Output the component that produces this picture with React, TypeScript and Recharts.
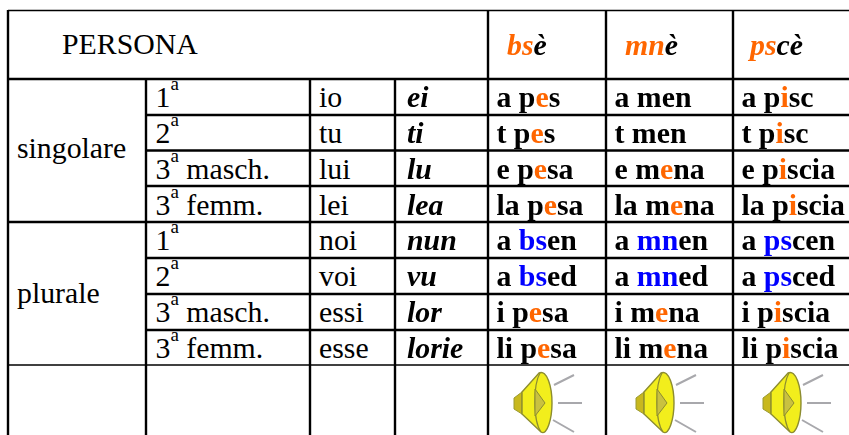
import { ReferenceLine, Scatter, ScatterChart, XAxis, YAxis } from "recharts";

const WIDTH = 849;
const HEIGHT = 435;
const SERIF = "'Liberation Serif', 'Times New Roman', serif";
const ORANGE = "#ff6600";
const BLUE = "#0000ff";

// table content. {x} marks the orange vowel, [x] the blue root
const groups = ["singolare", "plurale"];
const ordinals = ["1", "2", "3", "3", "1", "2", "3", "3"];
const personNotes = ["", "", "masch.", "femm.", "", "", "masch.", "femm."];
const pronouns = ["io", "tu", "lui", "lei", "noi", "voi", "essi", "esse"];
const dialectPronouns = ["ei", "ti", "lu", "lea", "nun", "vu", "lor", "lorie"];
const verbHeads = ["{bs}è", "{mn}è", "{ps}cè"];
const bseForms = ["a p{e}s", "t p{e}s", "e p{e}sa", "la p{e}sa", "a [bs]en", "a [bs]ed", "i p{e}sa", "li p{e}sa"];
const mneForms = ["a men", "t men", "e m{e}na", "la m{e}na", "a [mn]en", "a [mn]ed", "i m{e}na", "li m{e}na"];
const psceForms = ["a p{i}sc", "t p{i}sc", "e p{i}scia", "la p{i}scia", "a [ps]cen", "a [ps]ced", "i p{i}scia", "li p{i}scia"];

// layout
const colX = { left: 8, person: 146, pronoun: 310, dialect: 395, bse: 488, mne: 606, psce: 733 };
const rowLines = [79, 115, 150.5, 186, 222, 258, 294, 330, 365];
const baselines = [107, 143, 178.5, 214.5, 250, 286, 322, 358];
const groupBaselines = [158, 303];
const formX = [496.5, 614.5, 741.5];
const headX = [507, 625, 750];
const speakerX = [514, 636, 763];
const speakerY = 403;
const FONT = 29.8;
const LINE = 2.4;

type Run = { text: string; color?: string };

function parseRuns(src: string): Run[] {
  const runs: Run[] = [];
  const re = /\{([^}]*)\}|\[([^\]]*)\]|([^{[]+)/g;
  let m;
  while ((m = re.exec(src))) {
    if (m[1]) runs.push({ text: m[1], color: ORANGE });
    else if (m[2]) runs.push({ text: m[2], color: BLUE });
    else runs.push({ text: m[3] });
  }
  return runs;
}

function TextMark(props: any) {
  const { cx, cy, payload } = props;
  const { text, bold, italic } = payload;
  return (
    <text
      x={cx}
      y={cy}
      fontFamily={SERIF}
      fontSize={FONT}
      fontWeight={bold ? "bold" : "normal"}
      fontStyle={italic ? "italic" : "normal"}
      fill="#000"
      style={{ whiteSpace: "pre", filter: bold ? "blur(0.35px)" : undefined }}
    >
      {parseRuns(text).map((r, i) => (
        <tspan key={i} fill={r.color || "#000"}>
          {r.text}
        </tspan>
      ))}
    </text>
  );
}

function PersonMark(props: any) {
  const { cx, cy, payload } = props;
  return (
    <text x={cx} y={cy} fontFamily={SERIF} fontSize={FONT} fill="#000" style={{ whiteSpace: "pre" }}>
      <tspan>{payload.ordinal}</tspan>
      <tspan fontSize={19} dy={-17}>
        a
      </tspan>
      {payload.note ? <tspan dy={17}>{" " + payload.note}</tspan> : null}
    </text>
  );
}

function SpeakerMark(props: any) {
  const { cx, cy } = props;
  return (
    <g transform={`translate(${cx} ${cy})`} style={{ filter: "blur(0.5px)" }}>
      <path d="M40 -18 L60 -28 M44 0 L68 0 M39 17 L60 29" stroke="#a8a8ac" strokeWidth={2} fill="none" />
      <path d="M0 -5 L8 -11 L8 11 L0 6 Z" fill="#c8b81e" stroke="#9a9a30" strokeWidth={1} />
      <path
        d="M8 -11 L25 -30 C33 -34 38 -16 38 0 C38 16 33 33 27 29 L8 11 Z"
        fill="#f2ee1c"
        stroke="#8c8c30"
        strokeWidth={1.4}
      />
      <path d="M26 -30 C19 -18 19 18 27 29" fill="none" stroke="#8c8c30" strokeWidth={1.2} />
      <path d="M21 -14 L31 0 L21 13 Z" fill="#c9c140" stroke="#8c8c30" strokeWidth={1} />
    </g>
  );
}

const headerData = [
  { x: 62, y: 54, text: "PERSONA" },
  ...groups.map((g, i) => ({ x: 17, y: groupBaselines[i], text: g })),
  ...pronouns.map((p, i) => ({ x: 319, y: baselines[i], text: p })),
];
const personData = ordinals.map((o, i) => ({ x: 155.5, y: baselines[i], ordinal: o, note: personNotes[i] }));
const dialectData = dialectPronouns.map((p, i) => ({ x: 407, y: baselines[i], text: p, bold: true, italic: true }));
const verbHeadData = verbHeads.map((h, i) => ({ x: headX[i], y: 55, text: h, bold: true, italic: true }));
const formData = [bseForms, mneForms, psceForms].flatMap((forms, c) =>
  forms.map((f, i) => ({ x: formX[c], y: baselines[i], text: f, bold: true }))
);
const speakerData = speakerX.map((x) => ({ x, y: speakerY }));

const vLines = [
  { x: colX.left, from: 10, to: HEIGHT },
  { x: colX.person, from: 79, to: HEIGHT },
  { x: colX.pronoun, from: 79, to: HEIGHT },
  { x: colX.dialect, from: 79, to: HEIGHT },
  { x: colX.bse, from: 10, to: HEIGHT },
  { x: colX.mne, from: 10, to: HEIGHT },
  { x: colX.psce, from: 10, to: HEIGHT },
];
// rows inside a group start at the person column
const hLines = rowLines.map((y, i) => ({
  y,
  from: i === 0 || i === 4 || i === 8 ? colX.left : colX.person,
  width: i === 8 ? 1.6 : LINE,
}));

export default function App() {
  return (
    <div style={{ position: "absolute", left: 0, top: 0, width: WIDTH, height: HEIGHT, background: "#fff" }}>
      <ScatterChart width={WIDTH} height={HEIGHT} margin={{ top: 0, right: 0, bottom: 0, left: 0 }}>
        <XAxis type="number" dataKey="x" domain={[0, WIDTH]} hide />
        <YAxis type="number" dataKey="y" domain={[0, HEIGHT]} reversed hide />
        <ReferenceLine
          segment={[
            { x: colX.left, y: 10.5 },
            { x: WIDTH, y: 10.5 },
          ]}
          stroke="#000"
          strokeWidth={1.6}
        />
        {hLines.map((l) => (
          <ReferenceLine
            key={l.y}
            segment={[
              { x: l.from, y: l.y },
              { x: WIDTH, y: l.y },
            ]}
            stroke="#000"
            strokeWidth={l.width}
          />
        ))}
        {vLines.map((l) => (
          <ReferenceLine
            key={l.x}
            segment={[
              { x: l.x, y: l.from },
              { x: l.x, y: l.to },
            ]}
            stroke="#000"
            strokeWidth={LINE}
          />
        ))}
        <Scatter data={headerData} shape={TextMark} isAnimationActive={false} />
        <Scatter data={personData} shape={PersonMark} isAnimationActive={false} />
        <Scatter data={dialectData} shape={TextMark} isAnimationActive={false} />
        <Scatter data={verbHeadData} shape={TextMark} isAnimationActive={false} />
        <Scatter data={formData} shape={TextMark} isAnimationActive={false} />
        <Scatter data={speakerData} shape={SpeakerMark} isAnimationActive={false} />
      </ScatterChart>
    </div>
  );
}
